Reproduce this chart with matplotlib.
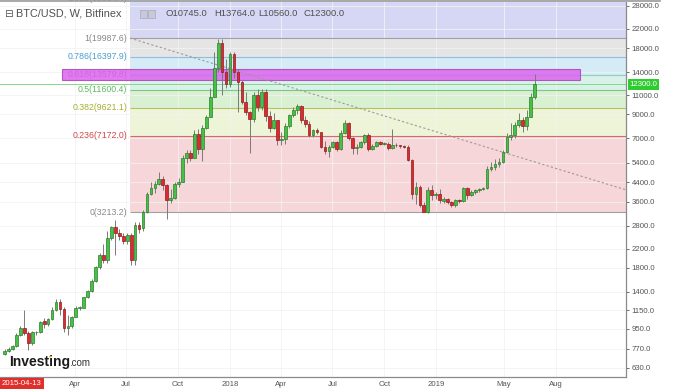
import datetime as dt
import matplotlib
matplotlib.use("Agg")
import matplotlib.pyplot as plt
import matplotlib.dates as mdates
from matplotlib.patches import Rectangle, Circle
from matplotlib.lines import Line2D

plt.rcParams['font.family'] = ['Liberation Sans', 'DejaVu Sans']

# ---------------- data (weekly candles, first week 2016-11-28) ----------------
first_week = dt.date(2016, 11, 28)
opens = [728, 755, 770, 790, 890, 960, 905, 815, 915, 918,
         1030, 995, 1050, 1150, 1260, 1170, 960, 975, 1075, 1180,
         1185, 1320, 1410, 1570, 1810, 2060, 1960, 2460, 2750, 2600,
         2500, 2370, 2540, 1950, 2820, 2720, 3230, 3900, 4150, 4330,
         4550, 4300, 3650, 3720, 4330, 4420, 5700, 6000, 5700, 7300,
         6250, 7780, 8740, 10780, 14600, 19000, 14000, 12300, 17000, 14000,
         12600, 10230, 9200, 8550, 11000, 9700, 11360, 8800, 7800, 8470,
         6870, 6950, 7950, 8900, 9400, 9800, 8470, 8120, 7240, 7600,
         7450, 6400, 6100, 6380, 6700, 6250, 7400, 8200, 7000, 6300,
         6400, 6700, 7200, 6250, 6450, 6700, 6590, 6610, 6300, 6550,
         6500, 6420, 6380, 5570, 3900, 4200, 3480, 3230, 4070, 3850,
         3880, 3620, 3700, 3580, 3480, 3650, 3620, 4150, 3860, 3970,
         4060, 4090, 4150, 5080, 5180, 5320, 5450, 6060, 7100, 7250,
         8050, 8470, 7950, 8750, 10745]
highs = [765, 780, 800, 905, 975, 1160, 925, 930, 925, 1030,
         1060, 1060, 1190, 1290, 1300, 1190, 1100, 1090, 1200, 1210,
         1330, 1420, 1600, 1830, 2100, 2300, 2640, 2800, 2970, 2700,
         2600, 2600, 2600, 2900, 2900, 3300, 4000, 4400, 4450, 4900,
         4700, 4350, 4100, 4400, 4600, 5850, 6200, 6200, 7600, 7700,
         8000, 8900, 11800, 17200, 19900, 19900, 16000, 17300, 17200, 14400,
         12900, 11300, 9300, 11300, 11700, 11700, 11700, 9300, 9100, 8500,
         7500, 8200, 9000, 9700, 10000, 9900, 8800, 8400, 7700, 7800,
         7500, 6800, 6500, 6800, 6800, 7600, 8500, 8300, 7100, 6600,
         6800, 7350, 7400, 6600, 6800, 6800, 6700, 6700, 7700, 6650,
         6550, 6500, 6500, 5650, 4400, 4300, 3600, 4200, 4300, 4000,
         4100, 3780, 3750, 3620, 3700, 3700, 4200, 4200, 4050, 4100,
         4150, 4200, 5250, 5450, 5600, 5700, 6200, 7400, 8210, 8300,
         9100, 8700, 9400, 11200, 13764]
lows = [722, 745, 760, 785, 880, 890, 760, 800, 890, 910,
        960, 975, 1040, 1140, 1100, 920, 890, 960, 1070, 1160,
        1180, 1310, 1400, 1550, 1780, 1900, 1900, 2400, 2060, 2400,
        2300, 2300, 1850, 1850, 2600, 2650, 3200, 3850, 3950, 4300,
        4070, 3000, 3550, 3700, 4200, 4400, 5400, 5500, 5700, 5900,
        5500, 7700, 8700, 10800, 14000, 11000, 11800, 12000, 13100, 9200,
        10000, 8900, 6000, 8300, 9300, 9400, 8400, 7500, 7700, 6500,
        6500, 6600, 7800, 8700, 9000, 8200, 7900, 7100, 7100, 7300,
        6300, 5900, 5750, 6300, 6100, 6200, 7300, 6900, 5900, 5900,
        6300, 6600, 6100, 6200, 6400, 6500, 6500, 6200, 6250, 6400,
        6300, 6300, 5500, 3700, 3500, 3400, 3212, 3200, 3650, 3700,
        3550, 3550, 3500, 3400, 3400, 3560, 3600, 3700, 3800, 3900,
        4000, 4050, 4100, 4950, 5000, 5200, 5400, 6000, 6900, 7000,
        7900, 7500, 7600, 8700, 10560]
closes = [755, 770, 790, 890, 960, 905, 815, 915, 918, 1020,
          1000, 1050, 1150, 1260, 1170, 960, 975, 1075, 1180, 1185,
          1320, 1410, 1570, 1810, 2060, 1960, 2460, 2750, 2600, 2500,
          2370, 2540, 1950, 2820, 2700, 3230, 3900, 4150, 4330, 4550,
          4300, 3650, 3720, 4330, 4420, 5700, 6000, 5700, 7300, 6250,
          7780, 8740, 10780, 14600, 19000, 14000, 12300, 17000, 14000, 12600,
          10230, 9200, 8550, 11000, 9700, 11360, 8800, 7800, 8470, 6870,
          6950, 7950, 8900, 9400, 9800, 8470, 8120, 7240, 7600, 7450,
          6400, 6100, 6380, 6700, 6250, 7400, 8200, 7000, 6300, 6400,
          6700, 7200, 6250, 6450, 6700, 6590, 6610, 6300, 6550, 6500,
          6420, 6380, 5570, 3900, 4200, 3480, 3230, 4070, 3850, 3880,
          3660, 3700, 3580, 3480, 3650, 3620, 4150, 3860, 3970, 4060,
          4090, 4150, 5080, 5180, 5320, 5450, 6060, 7100, 7250, 8050,
          8470, 7950, 8750, 10745, 12300]

# Fibonacci retracement
fib_ratios = ["0", "0.236", "0.382", "0.5", "0.618", "0.786", "1", "1.618"]
fib_prices = [3213.2, 7172.0, 9621.1, 11600.4, 13579.8, 16397.9, 19987.6, 30354.4]
fib_start = dt.date(2017, 7, 8)
band_colors = ['#f6d6d9', '#eef4d7', '#d9f0d3', '#d8f2ea', '#d5ebf6', '#e5e5e5', '#d6d6f5']
line_colors = ['#a0a0a0', '#d46a6a', '#b4c262', '#7cc87c', '#8fd0c0', '#8cbfe0', '#a0a0a0', '#9a9ae0']
label_colors = ['#888888', '#d04848', '#a5b030', '#5cb85c', '#9b6aa8', '#4a9fd0', '#888888', '#888888']

# highlighted zone (magenta box)
zone_start = dt.date(2017, 3, 9)
zone_end = dt.date(2019, 9, 12)
zone_low = 12890
zone_high = 14450

# trend line
trend_dates = [dt.date(2017, 7, 8), dt.date(2019, 12, 3)]
trend_prices = [19987.6, 4070]

last_price = 12300.0
ohlc_text = ["O10745.0", "H13764.0", "L10560.0", "C12300.0"]

ytick_vals = [28000, 22000, 18000, 14000, 11000, 9000, 7000, 5400, 4400, 3600,
              2800, 2200, 1800, 1400, 1150, 950, 770, 630]
xtick_dates = [dt.date(2017, 4, 1), dt.date(2017, 7, 1), dt.date(2017, 10, 1),
               dt.date(2018, 1, 1), dt.date(2018, 4, 1), dt.date(2018, 7, 1),
               dt.date(2018, 10, 1), dt.date(2019, 1, 1), dt.date(2019, 5, 1),
               dt.date(2019, 8, 1)]
xtick_labels = ["Apr", "Jul", "Oct", "2018", "Apr", "Jul", "Oct", "2019", "May", "Aug"]

# ---------------- figure ----------------
W, H = 680, 389
fig = plt.figure(figsize=(W / 100, H / 100), dpi=100)
ax = fig.add_axes([0, 12 / H, 626 / W, 375 / H])
ax.set_yscale('log')

dates = [first_week + dt.timedelta(weeks=i) for i in range(len(opens))]
xd = mdates.date2num(dates)
x0 = mdates.date2num(first_week) - 8.14
x1 = x0 + 1108.0
ax.set_xlim(x0, x1)
ax.set_ylim(572, 29190)

# fib bands
fs = mdates.date2num(fib_start)
fx = (fs - x0) / (x1 - x0)
for i in range(len(band_colors)):
    ax.axhspan(fib_prices[i], fib_prices[i + 1], xmin=fx, xmax=1,
               color=band_colors[i], lw=0, zorder=0.5)
for p, c in zip(fib_prices, line_colors):
    ax.hlines(p, fs, x1, color=c, lw=0.8, zorder=0.7)
for r, p, c in zip(fib_ratios, fib_prices, label_colors):
    ax.annotate(f"{r}({p:.1f})", (fs, p), xytext=(-2, 0), textcoords='offset points',
                ha='right', va='center', fontsize=6.3, color=c, zorder=1.5,
                annotation_clip=False)

# magenta zone
zs = mdates.date2num(zone_start)
ze = mdates.date2num(zone_end)
ax.add_patch(Rectangle((zs, zone_low), ze - zs, zone_high - zone_low,
                       facecolor='#dc64ee', edgecolor='#a844bb', lw=0.8,
                       alpha=0.85, zorder=2))

# trend line
ax.plot(mdates.date2num(trend_dates), trend_prices, ls=(0, (2, 2)),
        color='#a09898', lw=0.8, zorder=2.5)

# last price line
ax.axhline(last_price, color='#86d886', lw=0.7, zorder=1.8)

# candles
for x, o, h, l, c in zip(xd, opens, highs, lows, closes):
    ax.vlines(x, l, h, color='#7a7a7a', lw=0.7, zorder=4)
    up = c >= o
    lo, hi = min(o, c), max(o, c)
    if hi / lo < 1.006:
        hi = lo * 1.006
    ax.add_patch(Rectangle((x - 2.4, lo), 4.8, hi - lo,
                           facecolor='#46c046' if up else '#dd2a30',
                           edgecolor='#2c7d2c' if up else '#8e1c1c',
                           lw=0.5, zorder=5))

# axes styling
ax.yaxis.tick_right()
ax.set_yticks(ytick_vals)
ax.set_yticklabels([f"{v:.1f}" for v in ytick_vals])
ax.minorticks_off()
ax.set_xticks(mdates.date2num(xtick_dates))
ax.set_xticklabels(xtick_labels)
ax.tick_params(axis='y', labelsize=5.6, colors='#555555', length=2, pad=2, width=0.6)
ax.tick_params(axis='x', labelsize=5.6, colors='#555555', length=0, pad=3)
ax.grid(True, color='#f2f2f2', lw=0.6, zorder=0)
ax.set_axisbelow(True)
ax.spines['left'].set_visible(False)
for s in ['right', 'bottom']:
    ax.spines[s].set_color('#8a8a8a')
    ax.spines[s].set_linewidth(0.9)
ax.spines['top'].set_visible(False)

# top border across the chart and price scale
fig.lines.append(Line2D([0, 660 / W], [1 - 1 / H, 1 - 1 / H], transform=fig.transFigure,
                        color='#9a9a9a', lw=1.2))

# last price label
ax.annotate(f"{last_price:.1f}", (1, last_price), xycoords=('axes fraction', 'data'),
            xytext=(2.5, 0), textcoords='offset points', ha='left', va='center',
            fontsize=5.6, color='white', annotation_clip=False, zorder=10,
            bbox=dict(boxstyle='square,pad=0.25', fc='#2fcc2f', ec='none'))


def fp(px, py):
    return px / W, 1 - py / H


# header
fig.text(*fp(4, 14), "\u229f", fontsize=7.5, color='#555555', va='center', ha='left')
fig.text(*fp(16, 14), "BTC/USD, W, Bitfinex", fontsize=7.8, color='#505050',
         va='center', ha='left')
for sx in (140, 148):
    fig.patches.append(Rectangle(fp(sx, 18), 7 / W, 8 / H, transform=fig.transFigure,
                                 facecolor='#c8c8d8', edgecolor='#aaaabb', lw=0.5))
for tx, t in zip((165, 214, 258, 303), ohlc_text):
    fig.text(*fp(tx, 14), t, fontsize=6.8, color='#505050', va='center', ha='left')

# bottom-left date label
fig.text(*fp(2, 383.5), "2015-04-13", fontsize=5.6, color='white', va='center', ha='left',
         bbox=dict(boxstyle='square,pad=0.3', fc='#e0302e', ec='none'))

# Investing.com logo
fig.text(*fp(9, 366), "Investing", fontsize=10, fontweight='bold', color='#1a1a1a',
         va='baseline', ha='left', zorder=20)
fig.text(*fp(69, 366), ".com", fontsize=7, color='#333333', va='baseline', ha='left', zorder=20)
fig.patches.append(Circle(fp(50.5, 356.5), 1.4 / W, transform=fig.transFigure,
                          facecolor='#f0a020', edgecolor='none', zorder=21))

fig.savefig("out.png", dpi=100)
